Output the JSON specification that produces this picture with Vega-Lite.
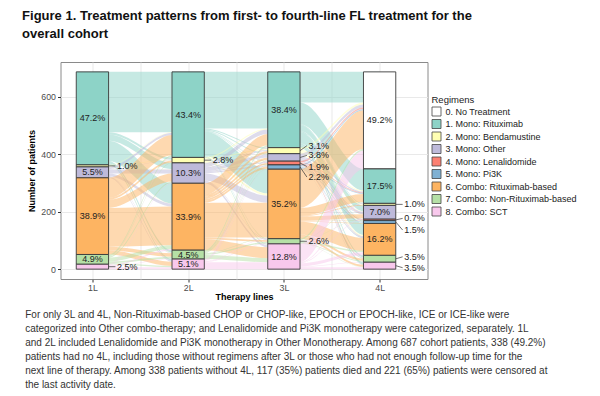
{
  "$schema": "https://vega.github.io/schema/vega-lite/v6.json",
  "padding": {"left": 21.5, "top": 10, "right": 0, "bottom": 0},
  "title": {
    "text": ["Figure 1. Treatment patterns from first- to fourth-line FL treatment for the", "overall cohort"],
    "anchor": "start", "frame": "bounds", "fontSize": 13, "fontWeight": "bold", "lineHeight": 18, "color": "#111", "offset": 20.5, "dx": -2.6
  },
  "datasets": {
    "reg": [
      {"code": "0", "regimen": "0. No Treatment"},
      {"code": "1", "regimen": "1. Mono: Rituximab"},
      {"code": "2", "regimen": "2. Mono: Bendamustine"},
      {"code": "3", "regimen": "3. Mono: Other"},
      {"code": "4", "regimen": "4. Mono: Lenalidomide"},
      {"code": "5", "regimen": "5. Mono: Pi3K"},
      {"code": "6", "regimen": "6. Combo: Rituximab-based"},
      {"code": "7", "regimen": "7. Combo: Non-Rituximab-based"},
      {"code": "8", "regimen": "8. Combo: SCT"}
    ],
    "edges": [
      {"line": "1L", "plus": "1L+"},
      {"line": "2L", "plus": "2L+", "minus": "2L-"},
      {"line": "3L", "plus": "3L+", "minus": "3L-"},
      {"line": "4L", "minus": "4L-"}
    ],
    "bars": [
      {"line": "1L", "code": "1", "n": 324, "pct": 0.472},
      {"line": "1L", "code": "2", "n": 7, "pct": 0.010},
      {"line": "1L", "code": "3", "n": 38, "pct": 0.055},
      {"line": "1L", "code": "6", "n": 267, "pct": 0.389},
      {"line": "1L", "code": "7", "n": 34, "pct": 0.049},
      {"line": "1L", "code": "8", "n": 17, "pct": 0.025},
      {"line": "2L", "code": "1", "n": 298, "pct": 0.434},
      {"line": "2L", "code": "2", "n": 19, "pct": 0.028},
      {"line": "2L", "code": "3", "n": 71, "pct": 0.103},
      {"line": "2L", "code": "6", "n": 233, "pct": 0.339},
      {"line": "2L", "code": "7", "n": 31, "pct": 0.045},
      {"line": "2L", "code": "8", "n": 35, "pct": 0.051},
      {"line": "3L", "code": "1", "n": 264, "pct": 0.384},
      {"line": "3L", "code": "2", "n": 21, "pct": 0.031},
      {"line": "3L", "code": "3", "n": 26, "pct": 0.038},
      {"line": "3L", "code": "4", "n": 13, "pct": 0.019},
      {"line": "3L", "code": "5", "n": 15, "pct": 0.022},
      {"line": "3L", "code": "6", "n": 242, "pct": 0.352},
      {"line": "3L", "code": "7", "n": 18, "pct": 0.026},
      {"line": "3L", "code": "8", "n": 88, "pct": 0.128},
      {"line": "4L", "code": "0", "n": 338, "pct": 0.492},
      {"line": "4L", "code": "1", "n": 120, "pct": 0.175},
      {"line": "4L", "code": "2", "n": 7, "pct": 0.010},
      {"line": "4L", "code": "3", "n": 48, "pct": 0.070},
      {"line": "4L", "code": "4", "n": 5, "pct": 0.007},
      {"line": "4L", "code": "5", "n": 10, "pct": 0.015},
      {"line": "4L", "code": "6", "n": 111, "pct": 0.162},
      {"line": "4L", "code": "7", "n": 24, "pct": 0.035},
      {"line": "4L", "code": "8", "n": 24, "pct": 0.035}
    ],
    "flows": [
      {"a": "1L", "b": "2L", "s": "1", "g": "1", "n": 210},
      {"a": "1L", "b": "2L", "s": "1", "g": "2", "n": 8},
      {"a": "1L", "b": "2L", "s": "1", "g": "3", "n": 22},
      {"a": "1L", "b": "2L", "s": "1", "g": "6", "n": 70},
      {"a": "1L", "b": "2L", "s": "1", "g": "7", "n": 8},
      {"a": "1L", "b": "2L", "s": "1", "g": "8", "n": 6},
      {"a": "1L", "b": "2L", "s": "2", "g": "1", "n": 2},
      {"a": "1L", "b": "2L", "s": "2", "g": "2", "n": 2},
      {"a": "1L", "b": "2L", "s": "2", "g": "3", "n": 1},
      {"a": "1L", "b": "2L", "s": "2", "g": "6", "n": 1},
      {"a": "1L", "b": "2L", "s": "2", "g": "7", "n": 1},
      {"a": "1L", "b": "2L", "s": "3", "g": "1", "n": 8},
      {"a": "1L", "b": "2L", "s": "3", "g": "2", "n": 1},
      {"a": "1L", "b": "2L", "s": "3", "g": "3", "n": 14},
      {"a": "1L", "b": "2L", "s": "3", "g": "6", "n": 10},
      {"a": "1L", "b": "2L", "s": "3", "g": "7", "n": 2},
      {"a": "1L", "b": "2L", "s": "3", "g": "8", "n": 3},
      {"a": "1L", "b": "2L", "s": "6", "g": "1", "n": 70},
      {"a": "1L", "b": "2L", "s": "6", "g": "2", "n": 7},
      {"a": "1L", "b": "2L", "s": "6", "g": "3", "n": 28},
      {"a": "1L", "b": "2L", "s": "6", "g": "6", "n": 135},
      {"a": "1L", "b": "2L", "s": "6", "g": "7", "n": 12},
      {"a": "1L", "b": "2L", "s": "6", "g": "8", "n": 15},
      {"a": "1L", "b": "2L", "s": "7", "g": "1", "n": 6},
      {"a": "1L", "b": "2L", "s": "7", "g": "2", "n": 1},
      {"a": "1L", "b": "2L", "s": "7", "g": "3", "n": 4},
      {"a": "1L", "b": "2L", "s": "7", "g": "6", "n": 13},
      {"a": "1L", "b": "2L", "s": "7", "g": "7", "n": 6},
      {"a": "1L", "b": "2L", "s": "7", "g": "8", "n": 4},
      {"a": "1L", "b": "2L", "s": "8", "g": "1", "n": 2},
      {"a": "1L", "b": "2L", "s": "8", "g": "3", "n": 2},
      {"a": "1L", "b": "2L", "s": "8", "g": "6", "n": 4},
      {"a": "1L", "b": "2L", "s": "8", "g": "7", "n": 2},
      {"a": "1L", "b": "2L", "s": "8", "g": "8", "n": 7},
      {"a": "2L", "b": "3L", "s": "1", "g": "1", "n": 197},
      {"a": "2L", "b": "3L", "s": "1", "g": "2", "n": 4},
      {"a": "2L", "b": "3L", "s": "1", "g": "3", "n": 3},
      {"a": "2L", "b": "3L", "s": "1", "g": "4", "n": 2},
      {"a": "2L", "b": "3L", "s": "1", "g": "5", "n": 2},
      {"a": "2L", "b": "3L", "s": "1", "g": "6", "n": 85},
      {"a": "2L", "b": "3L", "s": "1", "g": "7", "n": 2},
      {"a": "2L", "b": "3L", "s": "1", "g": "8", "n": 3},
      {"a": "2L", "b": "3L", "s": "2", "g": "1", "n": 4},
      {"a": "2L", "b": "3L", "s": "2", "g": "2", "n": 4},
      {"a": "2L", "b": "3L", "s": "2", "g": "3", "n": 1},
      {"a": "2L", "b": "3L", "s": "2", "g": "4", "n": 1},
      {"a": "2L", "b": "3L", "s": "2", "g": "6", "n": 7},
      {"a": "2L", "b": "3L", "s": "2", "g": "7", "n": 1},
      {"a": "2L", "b": "3L", "s": "2", "g": "8", "n": 1},
      {"a": "2L", "b": "3L", "s": "3", "g": "1", "n": 15},
      {"a": "2L", "b": "3L", "s": "3", "g": "2", "n": 4},
      {"a": "2L", "b": "3L", "s": "3", "g": "3", "n": 10},
      {"a": "2L", "b": "3L", "s": "3", "g": "4", "n": 3},
      {"a": "2L", "b": "3L", "s": "3", "g": "5", "n": 4},
      {"a": "2L", "b": "3L", "s": "3", "g": "6", "n": 25},
      {"a": "2L", "b": "3L", "s": "3", "g": "7", "n": 2},
      {"a": "2L", "b": "3L", "s": "3", "g": "8", "n": 8},
      {"a": "2L", "b": "3L", "s": "6", "g": "1", "n": 40},
      {"a": "2L", "b": "3L", "s": "6", "g": "2", "n": 7},
      {"a": "2L", "b": "3L", "s": "6", "g": "3", "n": 8},
      {"a": "2L", "b": "3L", "s": "6", "g": "4", "n": 6},
      {"a": "2L", "b": "3L", "s": "6", "g": "5", "n": 7},
      {"a": "2L", "b": "3L", "s": "6", "g": "6", "n": 121},
      {"a": "2L", "b": "3L", "s": "6", "g": "7", "n": 6},
      {"a": "2L", "b": "3L", "s": "6", "g": "8", "n": 38},
      {"a": "2L", "b": "3L", "s": "7", "g": "1", "n": 5},
      {"a": "2L", "b": "3L", "s": "7", "g": "2", "n": 1},
      {"a": "2L", "b": "3L", "s": "7", "g": "3", "n": 2},
      {"a": "2L", "b": "3L", "s": "7", "g": "4", "n": 1},
      {"a": "2L", "b": "3L", "s": "7", "g": "5", "n": 1},
      {"a": "2L", "b": "3L", "s": "7", "g": "6", "n": 2},
      {"a": "2L", "b": "3L", "s": "7", "g": "7", "n": 5},
      {"a": "2L", "b": "3L", "s": "7", "g": "8", "n": 14},
      {"a": "2L", "b": "3L", "s": "8", "g": "1", "n": 3},
      {"a": "2L", "b": "3L", "s": "8", "g": "2", "n": 1},
      {"a": "2L", "b": "3L", "s": "8", "g": "3", "n": 2},
      {"a": "2L", "b": "3L", "s": "8", "g": "5", "n": 1},
      {"a": "2L", "b": "3L", "s": "8", "g": "6", "n": 2},
      {"a": "2L", "b": "3L", "s": "8", "g": "7", "n": 2},
      {"a": "2L", "b": "3L", "s": "8", "g": "8", "n": 24},
      {"a": "3L", "b": "4L", "s": "1", "g": "0", "n": 107},
      {"a": "3L", "b": "4L", "s": "1", "g": "1", "n": 75},
      {"a": "3L", "b": "4L", "s": "1", "g": "2", "n": 3},
      {"a": "3L", "b": "4L", "s": "1", "g": "3", "n": 20},
      {"a": "3L", "b": "4L", "s": "1", "g": "4", "n": 1},
      {"a": "3L", "b": "4L", "s": "1", "g": "5", "n": 3},
      {"a": "3L", "b": "4L", "s": "1", "g": "6", "n": 40},
      {"a": "3L", "b": "4L", "s": "1", "g": "7", "n": 7},
      {"a": "3L", "b": "4L", "s": "1", "g": "8", "n": 8},
      {"a": "3L", "b": "4L", "s": "2", "g": "0", "n": 7},
      {"a": "3L", "b": "4L", "s": "2", "g": "1", "n": 4},
      {"a": "3L", "b": "4L", "s": "2", "g": "2", "n": 2},
      {"a": "3L", "b": "4L", "s": "2", "g": "3", "n": 2},
      {"a": "3L", "b": "4L", "s": "2", "g": "5", "n": 1},
      {"a": "3L", "b": "4L", "s": "2", "g": "6", "n": 4},
      {"a": "3L", "b": "4L", "s": "2", "g": "7", "n": 1},
      {"a": "3L", "b": "4L", "s": "3", "g": "0", "n": 10},
      {"a": "3L", "b": "4L", "s": "3", "g": "1", "n": 4},
      {"a": "3L", "b": "4L", "s": "3", "g": "3", "n": 5},
      {"a": "3L", "b": "4L", "s": "3", "g": "4", "n": 1},
      {"a": "3L", "b": "4L", "s": "3", "g": "5", "n": 1},
      {"a": "3L", "b": "4L", "s": "3", "g": "6", "n": 3},
      {"a": "3L", "b": "4L", "s": "3", "g": "7", "n": 1},
      {"a": "3L", "b": "4L", "s": "3", "g": "8", "n": 1},
      {"a": "3L", "b": "4L", "s": "4", "g": "0", "n": 5},
      {"a": "3L", "b": "4L", "s": "4", "g": "1", "n": 2},
      {"a": "3L", "b": "4L", "s": "4", "g": "3", "n": 2},
      {"a": "3L", "b": "4L", "s": "4", "g": "4", "n": 2},
      {"a": "3L", "b": "4L", "s": "4", "g": "6", "n": 1},
      {"a": "3L", "b": "4L", "s": "4", "g": "7", "n": 1},
      {"a": "3L", "b": "4L", "s": "5", "g": "0", "n": 5},
      {"a": "3L", "b": "4L", "s": "5", "g": "1", "n": 2},
      {"a": "3L", "b": "4L", "s": "5", "g": "3", "n": 2},
      {"a": "3L", "b": "4L", "s": "5", "g": "5", "n": 3},
      {"a": "3L", "b": "4L", "s": "5", "g": "6", "n": 2},
      {"a": "3L", "b": "4L", "s": "5", "g": "7", "n": 1},
      {"a": "3L", "b": "4L", "s": "6", "g": "0", "n": 135},
      {"a": "3L", "b": "4L", "s": "6", "g": "1", "n": 28},
      {"a": "3L", "b": "4L", "s": "6", "g": "2", "n": 2},
      {"a": "3L", "b": "4L", "s": "6", "g": "3", "n": 14},
      {"a": "3L", "b": "4L", "s": "6", "g": "4", "n": 1},
      {"a": "3L", "b": "4L", "s": "6", "g": "5", "n": 2},
      {"a": "3L", "b": "4L", "s": "6", "g": "6", "n": 45},
      {"a": "3L", "b": "4L", "s": "6", "g": "7", "n": 8},
      {"a": "3L", "b": "4L", "s": "6", "g": "8", "n": 7},
      {"a": "3L", "b": "4L", "s": "7", "g": "0", "n": 6},
      {"a": "3L", "b": "4L", "s": "7", "g": "1", "n": 2},
      {"a": "3L", "b": "4L", "s": "7", "g": "3", "n": 1},
      {"a": "3L", "b": "4L", "s": "7", "g": "6", "n": 5},
      {"a": "3L", "b": "4L", "s": "7", "g": "7", "n": 3},
      {"a": "3L", "b": "4L", "s": "7", "g": "8", "n": 1},
      {"a": "3L", "b": "4L", "s": "8", "g": "0", "n": 63},
      {"a": "3L", "b": "4L", "s": "8", "g": "1", "n": 3},
      {"a": "3L", "b": "4L", "s": "8", "g": "3", "n": 2},
      {"a": "3L", "b": "4L", "s": "8", "g": "6", "n": 11},
      {"a": "3L", "b": "4L", "s": "8", "g": "7", "n": 2},
      {"a": "3L", "b": "4L", "s": "8", "g": "8", "n": 7}
    ]
  },
  "resolve": {"legend": {"color": "independent"}, "scale": {"color": "independent"}},
  "vconcat": [
    {
      "width": 367,
      "height": 217,
      "title": {
        "text": [
          "For only 3L and 4L, Non-Rituximab-based CHOP or CHOP-like, EPOCH or EPOCH-like, ICE or ICE-like were",
          "categorized into Other combo-therapy; and Lenalidomide and Pi3K monotherapy were categorized, separately. 1L",
          "and 2L included Lenalidomide and Pi3K monotherapy in Other Monotherapy. Among 687 cohort patients, 338 (49.2%)",
          "patients had no 4L, including those without regimens after 3L or those who had not enough follow-up time for the",
          "next line of therapy. Among 338 patients without 4L, 117 (35%) patients died and 221 (65%) patients were censored at",
          "the last activity date."
        ],
        "orient": "bottom", "anchor": "start", "frame": "bounds", "fontSize": 10, "fontWeight": "normal", "lineHeight": 14, "color": "#333", "offset": 8, "dx": -2.6
      },
      "encoding": {
        "x": {
          "field": "line", "type": "ordinal",
          "sort": ["x0","x1","1L","1L+","a2","g1","a4","2L-","2L","2L+","b2","g2","b4","3L-","3L","3L+","c2","g3","c4","4L-","4L","4L+","d2","d3"],
          "scale": {"type": "point", "padding": 0, "domain": ["x0","x1","1L","1L+","a2","g1","a4","2L-","2L","2L+","b2","g2","b4","3L-","3L","3L+","c2","g3","c4","4L-","4L","4L+","d2","d3"]},
          "axis": {
            "values": ["1L","g1","2L","g2","3L","g3","4L"],
            "labelExpr": "indexof(['g1','g2','g3'], datum.value) >= 0 ? '' : datum.label",
            "tickColor": {"condition": {"test": "indexof(['g1','g2','g3'], datum.value) >= 0", "value": "transparent"}, "value": "#333"},
            "grid": true, "labelAngle": 0, "title": "Therapy lines", "labelPadding": 1, "titlePadding": 1
          }
        }
      },
      "layer": [
        {
          "data": {"name": "flows"},
          "transform": [
            {"stack": "n", "groupby": ["a"], "sort": [{"field": "s", "order": "descending"}, {"field": "g", "order": "descending"}], "as": ["s0", "s1"]},
            {"stack": "n", "groupby": ["b"], "sort": [{"field": "g", "order": "descending"}, {"field": "s", "order": "descending"}], "as": ["g0", "g1"]},
            {"lookup": "a", "from": {"data": {"name": "edges"}, "key": "line", "fields": ["plus"]}},
            {"lookup": "b", "from": {"data": {"name": "edges"}, "key": "line", "fields": ["minus"]}},
            {"lookup": "s", "from": {"data": {"name": "reg"}, "key": "code", "fields": ["regimen"]}},
            {"fold": ["s0", "g0"], "as": ["side", "lo"]},
            {"fold": ["s1", "g1"], "as": ["side2", "hi"]},
            {"filter": "(datum.side == 's0') == (datum.side2 == 's1')"},
            {"fold": ["a", "plus", "minus", "b"], "as": ["k", "line"]},
            {"filter": "(datum.side == 's0') == (datum.k == 'a' || datum.k == 'plus')"}
          ],
          "mark": {"type": "area", "interpolate": "monotone", "opacity": 0.5},
          "encoding": {
            "y": {"field": "lo", "type": "quantitative", "stack": null, "title": "Number of patients",
                  "scale": {"domain": [-34.35, 721.35], "nice": false, "zero": false},
                  "axis": {"values": [0, 200, 400, 600]}},
            "y2": {"field": "hi"},
            "color": {"field": "regimen", "type": "nominal",
              "scale": {"domain": ["0. No Treatment","1. Mono: Rituximab","2. Mono: Bendamustine","3. Mono: Other","4. Mono: Lenalidomide","5. Mono: Pi3K","6. Combo: Rituximab-based","7. Combo: Non-Rituximab-based","8. Combo: SCT"],
                        "range": ["#FFFFFF","#8DD3C7","#FFFFB3","#BEBADA","#FB8072","#80B1D3","#FDB462","#B5E0A6","#F8C8EC"]},
              "legend": {"title": "Regimens"}},
            "detail": [{"field": "a"}, {"field": "g"}]
          }
        },
        {
          "data": {"name": "bars"},
          "transform": [
            {"lookup": "code", "from": {"data": {"name": "reg"}, "key": "code", "fields": ["regimen"]}}
          ],
          "mark": {"type": "bar", "width": 32.3, "stroke": "#3a3a3a", "strokeWidth": 0.9, "opacity": 1},
          "encoding": {
            "y": {"field": "n", "type": "quantitative", "stack": "zero", "title": "Number of patients"},
            "color": {"field": "regimen", "type": "nominal"},
            "order": {"field": "code", "sort": "descending"}
          }
        },
        {
          "data": {"name": "bars"},
          "transform": [
            {"stack": "n", "groupby": ["line"], "sort": [{"field": "code", "order": "descending"}], "as": ["y0", "y1"]},
            {"fold": ["y0", "y1"], "as": ["end", "v"]},
            {"aggregate": [{"op": "mean", "field": "v", "as": "mid"}], "groupby": ["line", "code", "pct"]}
          ],
          "encoding": {
            "y": {"field": "mid", "type": "quantitative", "title": "Number of patients"}
          },
          "layer": [
            {
              "transform": [{"filter": "datum.pct >= 0.04"}],
              "mark": {"type": "text", "fontSize": 9, "color": "#222", "baseline": "middle"},
              "encoding": {"text": {"field": "pct", "format": ".1%"}}
            },
            {
              "transform": [{"filter": "datum.pct < 0.04 && !(datum.line == '3L' && indexof(['2','3','4','5'], datum.code) >= 0) && !(datum.line == '4L' && indexof(['4','5','7','8'], datum.code) >= 0)"}],
              "layer": [
                {"mark": {"type": "rule", "xOffset": 16.2, "x2Offset": 23, "color": "#333", "strokeWidth": 0.7},
                 "encoding": {"x2": {"field": "line"}, "y2": {"field": "mid"}}},
                {"mark": {"type": "text", "fontSize": 9, "color": "#222", "baseline": "middle", "align": "left", "dx": 24.5},
                 "encoding": {"text": {"field": "pct", "format": ".1%"}}}
              ]
            },
            {
              "transform": [{"filter": "datum.line == '3L' && datum.code == '2'"}],
              "layer": [
                {"mark": {"type": "rule", "xOffset": 16.2, "x2Offset": 23, "y2Offset": -5, "color": "#333", "strokeWidth": 0.7},
                 "encoding": {"x2": {"field": "line"}, "y2": {"field": "mid"}}},
                {"mark": {"type": "text", "fontSize": 9, "color": "#222", "baseline": "middle", "align": "left", "dx": 24.5, "dy": -5},
                 "encoding": {"text": {"field": "pct", "format": ".1%"}}}
              ]
            },
            {
              "transform": [{"filter": "datum.line == '3L' && datum.code == '3'"}],
              "layer": [
                {"mark": {"type": "rule", "xOffset": 16.2, "x2Offset": 23, "y2Offset": -2, "color": "#333", "strokeWidth": 0.7},
                 "encoding": {"x2": {"field": "line"}, "y2": {"field": "mid"}}},
                {"mark": {"type": "text", "fontSize": 9, "color": "#222", "baseline": "middle", "align": "left", "dx": 24.5, "dy": -2},
                 "encoding": {"text": {"field": "pct", "format": ".1%"}}}
              ]
            },
            {
              "transform": [{"filter": "datum.line == '3L' && datum.code == '4'"}],
              "layer": [
                {"mark": {"type": "rule", "xOffset": 16.2, "x2Offset": 23, "y2Offset": 3.5, "color": "#333", "strokeWidth": 0.7},
                 "encoding": {"x2": {"field": "line"}, "y2": {"field": "mid"}}},
                {"mark": {"type": "text", "fontSize": 9, "color": "#222", "baseline": "middle", "align": "left", "dx": 24.5, "dy": 3.5},
                 "encoding": {"text": {"field": "pct", "format": ".1%"}}}
              ]
            },
            {
              "transform": [{"filter": "datum.line == '3L' && datum.code == '5'"}],
              "layer": [
                {"mark": {"type": "rule", "xOffset": 16.2, "x2Offset": 23, "y2Offset": 10, "color": "#333", "strokeWidth": 0.7},
                 "encoding": {"x2": {"field": "line"}, "y2": {"field": "mid"}}},
                {"mark": {"type": "text", "fontSize": 9, "color": "#222", "baseline": "middle", "align": "left", "dx": 24.5, "dy": 10},
                 "encoding": {"text": {"field": "pct", "format": ".1%"}}}
              ]
            },
            {
              "transform": [{"filter": "datum.line == '4L' && datum.code == '4'"}],
              "layer": [
                {"mark": {"type": "rule", "xOffset": 16.2, "x2Offset": 23, "y2Offset": -1.5, "color": "#333", "strokeWidth": 0.7},
                 "encoding": {"x2": {"field": "line"}, "y2": {"field": "mid"}}},
                {"mark": {"type": "text", "fontSize": 9, "color": "#222", "baseline": "middle", "align": "left", "dx": 24.5, "dy": -1.5},
                 "encoding": {"text": {"field": "pct", "format": ".1%"}}}
              ]
            },
            {
              "transform": [{"filter": "datum.line == '4L' && datum.code == '5'"}],
              "layer": [
                {"mark": {"type": "rule", "xOffset": 16.2, "x2Offset": 23, "y2Offset": 8, "color": "#333", "strokeWidth": 0.7},
                 "encoding": {"x2": {"field": "line"}, "y2": {"field": "mid"}}},
                {"mark": {"type": "text", "fontSize": 9, "color": "#222", "baseline": "middle", "align": "left", "dx": 24.5, "dy": 8},
                 "encoding": {"text": {"field": "pct", "format": ".1%"}}}
              ]
            },
            {
              "transform": [{"filter": "datum.line == '4L' && datum.code == '7'"}],
              "layer": [
                {"mark": {"type": "rule", "xOffset": 16.2, "x2Offset": 23, "y2Offset": -2, "color": "#333", "strokeWidth": 0.7},
                 "encoding": {"x2": {"field": "line"}, "y2": {"field": "mid"}}},
                {"mark": {"type": "text", "fontSize": 9, "color": "#222", "baseline": "middle", "align": "left", "dx": 24.5, "dy": -2},
                 "encoding": {"text": {"field": "pct", "format": ".1%"}}}
              ]
            },
            {
              "transform": [{"filter": "datum.line == '4L' && datum.code == '8'"}],
              "layer": [
                {"mark": {"type": "rule", "xOffset": 16.2, "x2Offset": 23, "y2Offset": 2, "color": "#333", "strokeWidth": 0.7},
                 "encoding": {"x2": {"field": "line"}, "y2": {"field": "mid"}}},
                {"mark": {"type": "text", "fontSize": 9, "color": "#222", "baseline": "middle", "align": "left", "dx": 24.5, "dy": 2},
                 "encoding": {"text": {"field": "pct", "format": ".1%"}}}
              ]
            }
          ]
        }
      ]
    }
  ],
  "config": {
    "font": "Liberation Sans",
    "view": {"stroke": "#8a8a8a", "strokeWidth": 1},
    "axis": {
      "gridColor": "#E6E6E6", "gridWidth": 0.9, "domain": false, "tickColor": "#333", "tickSize": 3,
      "labelFontSize": 8.8, "labelColor": "#4D4D4D", "titleFontSize": 9, "titleFontWeight": "bold", "titleColor": "#000"
    },
    "legend": {
      "orient": "none", "legendX": 371, "legendY": 33, "symbolType": "square", "symbolSize": 81,
      "symbolStrokeColor": "#444", "symbolStrokeWidth": 0.8, "symbolOpacity": 1,
      "labelFontSize": 9, "labelColor": "#222", "titleFontSize": 9.5, "titleFontWeight": "normal", "titleColor": "#222",
      "rowPadding": -1.5, "titlePadding": 2, "labelOffset": 4, "padding": 0
    }
  }
}
